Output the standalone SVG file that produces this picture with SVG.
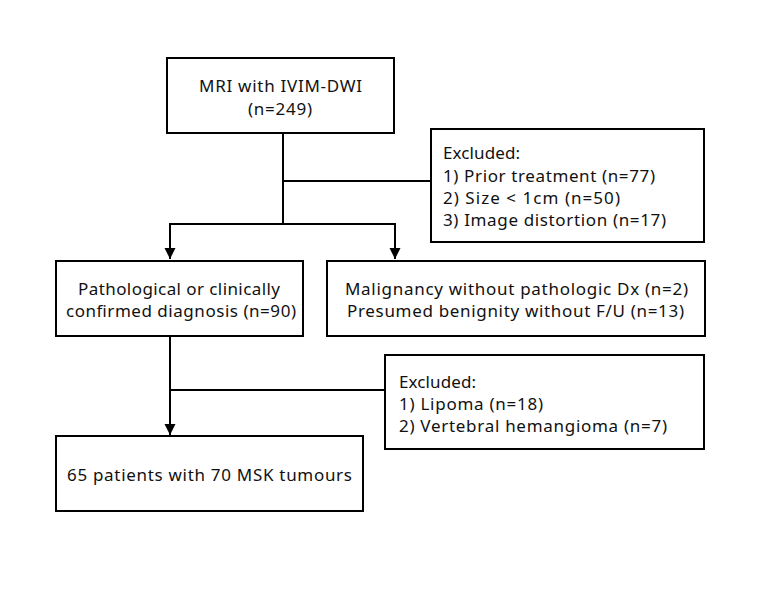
<svg xmlns="http://www.w3.org/2000/svg" width="761" height="590" viewBox="0 0 761 590">
  <defs>
    <style>
      .box { fill: #ffffff; stroke: #000000; stroke-width: 2; }
      .conn { fill: none; stroke: #000000; stroke-width: 2; }
      text { font-family: "Noto Sans", "Open Sans", "DejaVu Sans", sans-serif; font-size: 17px; fill: #111111; }
    </style>
    <marker id="arrow" markerUnits="userSpaceOnUse" markerWidth="12" markerHeight="12" refX="11" refY="5.5" orient="auto">
      <path d="M0,0 L11,5.5 L0,11 z" fill="#000000"/>
    </marker>
  </defs>
  <rect width="761" height="590" fill="#ffffff"/>

  <g id="connectors">
    <path class="conn" d="M283,133 V224"/>
    <path class="conn" d="M283,181 H431"/>
    <path class="conn" d="M169,224 H396"/>
    <path class="conn" d="M170,224 V259" marker-end="url(#arrow)"/>
    <path class="conn" d="M395,224 V259" marker-end="url(#arrow)"/>
    <path class="conn" d="M170,336 V435" marker-end="url(#arrow)"/>
    <path class="conn" d="M170,390 H385"/>
  </g>

  <g id="mri">
    <rect class="box" x="167" y="58" width="227" height="75"/>
    <text x="199" y="92" textLength="163" lengthAdjust="spacing">MRI with IVIM-DWI</text>
    <text x="248" y="115" textLength="64" lengthAdjust="spacing">(n=249)</text>
  </g>

  <g id="excluded1">
    <rect class="box" x="431" y="129" width="273" height="113"/>
    <text x="443" y="159" textLength="77" lengthAdjust="spacing">Excluded:</text>
    <text x="443" y="182" textLength="212" lengthAdjust="spacing">1) Prior treatment (n=77)</text>
    <text x="443" y="204" textLength="177" lengthAdjust="spacing">2) Size &lt; 1cm (n=50)</text>
    <text x="443" y="226" textLength="223" lengthAdjust="spacing">3) Image distortion (n=17)</text>
  </g>

  <g id="confirmed">
    <rect class="box" x="56" y="261" width="247" height="75"/>
    <text x="78" y="295" textLength="202" lengthAdjust="spacing">Pathological or clinically</text>
    <text x="66" y="317" textLength="230" lengthAdjust="spacing">confirmed diagnosis (n=90)</text>
  </g>

  <g id="unconfirmed">
    <rect class="box" x="327" y="261" width="378" height="75"/>
    <text x="345" y="295" textLength="343" lengthAdjust="spacing">Malignancy without pathologic Dx (n=2)</text>
    <text x="347" y="317" textLength="337" lengthAdjust="spacing">Presumed benignity without F/U (n=13)</text>
  </g>

  <g id="excluded2">
    <rect class="box" x="385" y="355" width="319" height="94"/>
    <text x="399" y="388" textLength="77" lengthAdjust="spacing">Excluded:</text>
    <text x="399" y="410" textLength="144" lengthAdjust="spacing">1) Lipoma (n=18)</text>
    <text x="399" y="432" textLength="268" lengthAdjust="spacing">2) Vertebral hemangioma (n=7)</text>
  </g>

  <g id="final">
    <rect class="box" x="56" y="436" width="307" height="75"/>
    <text x="67" y="481" textLength="285" lengthAdjust="spacing">65 patients with 70 MSK tumours</text>
  </g>
</svg>
